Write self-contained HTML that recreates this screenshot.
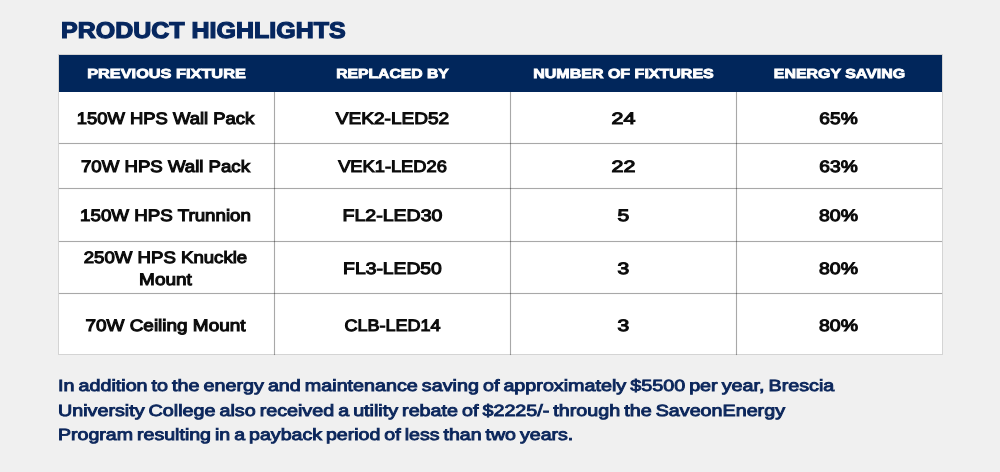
<!DOCTYPE html>
<html lang="en">
<head>
<meta charset="utf-8">
<title>Product Highlights</title>
<style>
  html,body{margin:0;padding:0;}
  body{width:1000px;height:472px;background:#f0f0f0;position:relative;overflow:hidden;
       font-family:"Liberation Sans",sans-serif;text-rendering:geometricPrecision;}
  .t{position:absolute;white-space:nowrap;line-height:1;transform-origin:50% 50%;will-change:transform;}
  h1.title{position:absolute;margin:0;left:61px;top:20px;font-size:22px;line-height:1;font-weight:bold;color:#06275f;
       white-space:nowrap;transform-origin:0 50%;-webkit-text-stroke:1.2px #06275f;will-change:transform;text-rendering:geometricPrecision;}
  .tbl{position:absolute;left:59px;top:55px;width:882.5px;height:299px;background:#fff;
       box-shadow:0 0 0 1px #d4d4d4;}
  .hdr{position:absolute;left:58.6px;top:55px;width:883.4px;height:36.7px;background:#01265b;}
  .hl{position:absolute;left:59px;width:883px;height:1px;background:rgba(0,0,0,.34);box-shadow:0 0 1px rgba(0,0,0,.22);}
  .vl{position:absolute;top:92px;height:263px;width:1px;background:rgba(0,0,0,.34);box-shadow:0 0 1px rgba(0,0,0,.22);}
  .th{color:#fff;font-weight:bold;font-size:13.1px;-webkit-text-stroke:0.8px #fff;}
  .td{color:#0b0b0b;font-size:16.5px;-webkit-text-stroke:1.05px #0b0b0b;}
  .c{text-align:center;}
  .c1{left:58.3px;width:215px;}
  .c2{left:274.6px;width:235px;}
  .c3{left:511px;width:225px;}
  .c4{left:736px;width:205px;}
  .p{position:absolute;left:58.4px;color:#0b265b;font-weight:normal;-webkit-text-stroke:0.9px #0b265b;font-size:16.2px;word-spacing:-1.2px;line-height:1;white-space:nowrap;transform-origin:0 50%;will-change:transform;}
</style>
</head>
<body>
<h1 class="title" id="title" style="transform:scale(1.136,1.03)">PRODUCT HIGHLIGHTS</h1>

<div class="tbl"></div>
<div class="hdr"></div>

<div class="hl" style="top:143px"></div>
<div class="hl" style="top:188px"></div>
<div class="hl" style="top:241px"></div>
<div class="hl" style="top:293px"></div>
<div class="vl" style="left:274px"></div>
<div class="vl" style="left:510px"></div>
<div class="vl" style="left:736px"></div>

<div class="t th c c1" id="h1" style="transform:scaleX(1.246);top:67px;margin-left:1px">PREVIOUS FIXTURE</div>
<div class="t th c c2" id="h2" style="transform:scaleX(1.200);top:67px">REPLACED BY</div>
<div class="t th c c3" id="h3" style="transform:scaleX(1.223);top:67px">NUMBER OF FIXTURES</div>
<div class="t th c c4" id="h4" style="transform:scaleX(1.216);top:67px;margin-left:1px">ENERGY SAVING</div>

<div class="t td c c1" id="r1a" style="transform:scaleX(1.116);top:111px">150W HPS Wall Pack</div>
<div class="t td c c2" id="r1b" style="transform:scaleX(1.155);top:111px">VEK2-LED52</div>
<div class="t td c c3" id="r1c" style="transform:scaleX(1.3);top:111px">24</div>
<div class="t td c c4" id="r1d" style="transform:scaleX(1.16);top:111px">65%</div>

<div class="t td c c1" id="r2a" style="transform:scaleX(1.128);top:159.4px">70W HPS Wall Pack</div>
<div class="t td c c2" id="r2b" style="transform:scaleX(1.107);top:159.4px">VEK1-LED26</div>
<div class="t td c c3" id="r2c" style="transform:scaleX(1.3);top:159.4px">22</div>
<div class="t td c c4" id="r2d" style="transform:scaleX(1.16);top:159.4px">63%</div>

<div class="t td c c1" id="r3a" style="transform:scaleX(1.136);top:208px">150W HPS Trunnion</div>
<div class="t td c c2" id="r3b" style="transform:scaleX(1.184);top:208px">FL2-LED30</div>
<div class="t td c c3" id="r3c" style="transform:scaleX(1.28);top:208px">5</div>
<div class="t td c c4" id="r3d" style="transform:scaleX(1.18);top:208px">80%</div>

<div class="t td c c1" id="r4a" style="transform:scaleX(1.128);top:250px">250W HPS Knuckle</div>
<div class="t td c c1" id="r4a2" style="transform:scaleX(1.15);top:272px">Mount</div>
<div class="t td c c2" id="r4b" style="transform:scaleX(1.17);top:261px">FL3-LED50</div>
<div class="t td c c3" id="r4c" style="transform:scaleX(1.28);top:261px">3</div>
<div class="t td c c4" id="r4d" style="transform:scaleX(1.18);top:261px">80%</div>

<div class="t td c c1" id="r5a" style="transform:scaleX(1.148);top:318px">70W Ceiling Mount</div>
<div class="t td c c2" id="r5b" style="transform:scaleX(1.092);top:318px">CLB-LED14</div>
<div class="t td c c3" id="r5c" style="transform:scaleX(1.28);top:318px">3</div>
<div class="t td c c4" id="r5d" style="transform:scaleX(1.18);top:318px">80%</div>

<p class="p" id="p1" style="transform:scaleX(1.219);top:377.7px;margin:0">In addition to the energy and maintenance saving of approximately $5500 per year, Brescia</p>
<p class="p" id="p2" style="transform:scaleX(1.218);top:402.7px;margin:0">University College also received a utility rebate of $2225/- through the SaveonEnergy</p>
<p class="p" id="p3" style="transform:scaleX(1.209);top:427.2px;margin:0">Program resulting in a payback period of less than two years.</p>
</body>
</html>
